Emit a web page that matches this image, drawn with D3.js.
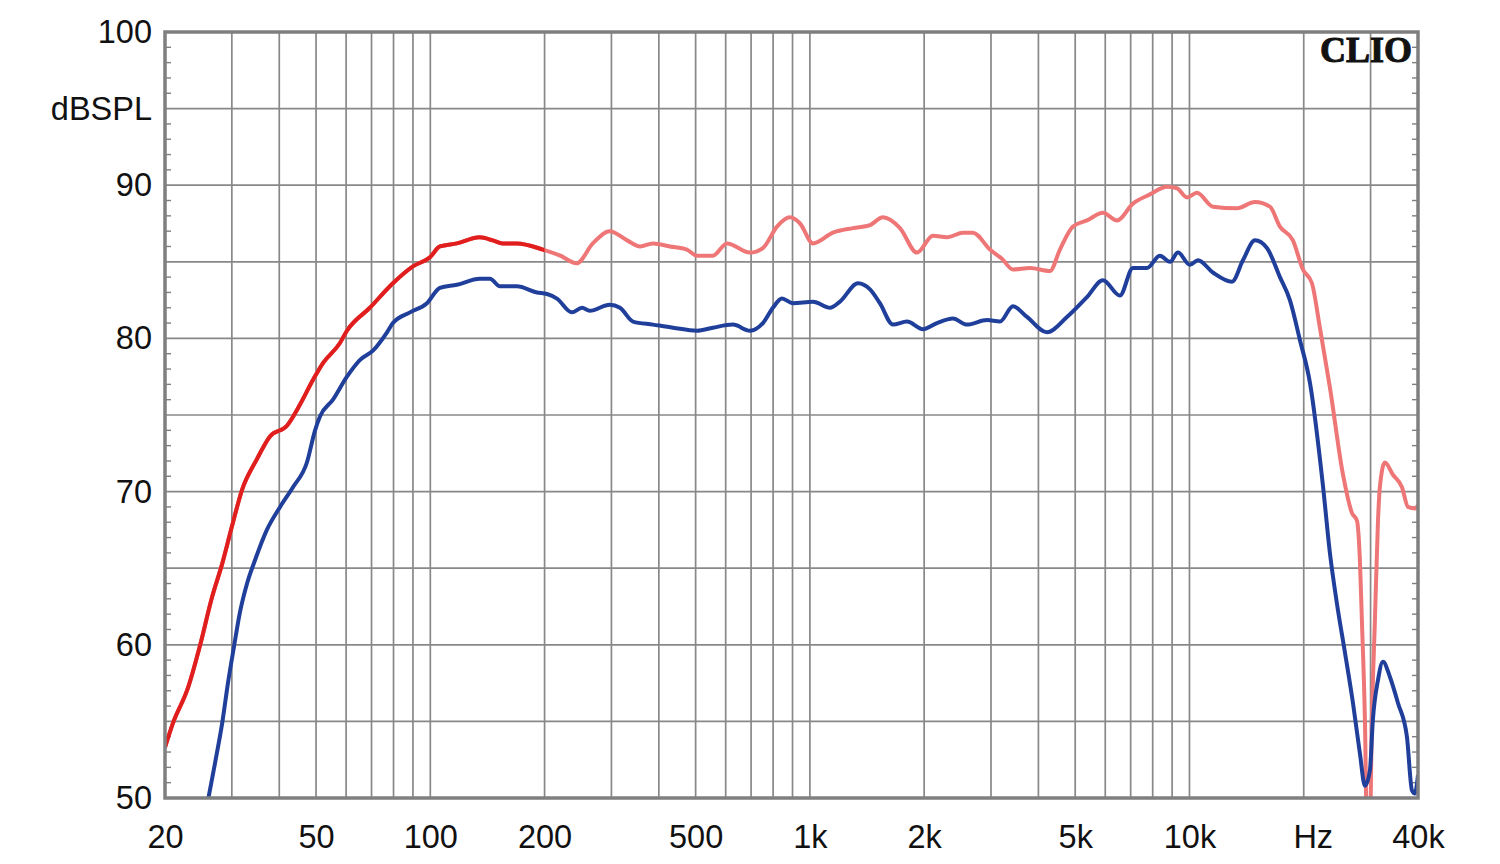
<!DOCTYPE html>
<html>
<head>
<meta charset="utf-8">
<script src="https://cdn.jsdelivr.net/npm/d3@7"></script>
<style>
  html, body { margin: 0; padding: 0; background: #fff; }
  svg { display: block; }
</style>
</head>
<body>
<svg id="chart" width="1500" height="864"></svg>
<script>
// ---------- DATA ----------
// X tick labels (Hz) and Y tick labels (dB SPL)
const xTickValues = [20, 50, 100, 200, 500, 1000, 2000, 5000, 10000, 20000, 40000];
const xTickLabels = ["20", "50", "100", "200", "500", "1k", "2k", "5k", "10k", "Hz", "40k"];
const yTickValues = [100, 95, 90, 80, 70, 60, 50];
const yTickLabels = ["100", "dBSPL", "90", "80", "70", "60", "50"];
const xGrid = [30, 40, 50, 60, 70, 80, 90, 100, 200, 300, 400, 500, 600, 700, 800, 900,
               1000, 2000, 3000, 4000, 5000, 6000, 7000, 8000, 9000, 10000, 20000, 30000];
const yGrid = [55, 60, 65, 70, 75, 80, 85, 90, 95];

// Red / pink curve (upper) : frequency (Hz), level (dB SPL)
const upperFreq = [20, 21.0, 23.0, 24.7, 26.6, 28.3, 30.0, 31.9, 34.9, 37.8, 41.9, 45.4, 49.1, 52.2,
  57.8, 60.3, 69.3, 79.7, 90.0, 99.8, 106, 117.5, 135, 146, 155, 169, 198, 220, 243, 268, 297,
  330, 357, 386, 428, 474, 504, 555, 605, 695, 752, 819, 886, 942, 1019, 1150, 1299, 1440, 1558,
  1727, 1915, 2110, 2297, 2531, 2689, 2981, 3206, 3427, 3800, 4290, 4558, 4932, 5369, 5916, 6441,
  7097, 7868, 8722, 9267, 9848, 10463, 11530, 13340, 14880, 16290, 17310, 18730, 19900, 21020,
  22060, 23440, 25380, 26800, 27620, 28120, 28460, 28990, 29340, 29880, 30240, 30800, 31380,
  31740, 32720, 34360, 36280, 37640, 39260, 40000];
const upperDb = [53.3, 54.9, 57.2, 59.9, 63.1, 65.3, 67.7, 70.1, 72.1, 73.6, 74.3, 75.7, 77.3, 78.4,
  79.7, 80.5, 82.0, 83.6, 84.7, 85.3, 86.0, 86.2, 86.6, 86.4, 86.2, 86.2, 85.8, 85.4, 84.9, 86.2, 87.0,
  86.4, 86.0, 86.2, 86.0, 85.8, 85.4, 85.4, 86.2, 85.6, 85.9, 87.3, 87.9, 87.5, 86.2, 86.9, 87.2, 87.4, 87.9,
  87.2, 85.6, 86.7, 86.6, 86.9, 86.9, 85.8, 85.2, 84.5, 84.6, 84.4, 85.8, 87.3, 87.7, 88.2, 87.7,
  88.8, 89.4, 89.9, 89.8, 89.2, 89.5, 88.6, 88.5, 88.9, 88.6, 87.3, 86.4, 84.5, 83.6,
  80.7, 76.8, 71.1, 68.6, 68.1, 65.5, 61.6, 55.1, 48.0, 48.0, 55.1, 61.6, 68.1,
  70.3, 71.9, 71.1, 70.3, 69.0, 68.9, 69.1];

// Blue curve (lower)
const lowerFreq = [25.8, 27.1, 28.3, 29.3, 30.4, 31.5, 32.9, 34.5, 37.1, 40.2, 43.5, 47.3, 49.7, 51.2,
  55.4, 60.3, 65.3, 70.6, 76.9, 79.7, 88.4, 98.0, 106, 117.5, 135, 143.6, 152.6, 169, 191, 203, 215.6,
  236, 251, 263, 297, 316, 342, 386, 436, 504, 555, 627, 695, 752, 799, 844, 902, 1019, 1130, 1200,
  1339, 1440, 1529, 1655, 1802, 1986, 2161, 2382, 2593, 2927, 3168, 3427, 3731, 4212, 4756, 5369,
  5916, 6559, 7097, 7727, 8359, 8883, 9325, 10028, 10528, 11530, 12940, 13830, 14880, 16000, 17310,
  18390, 19540, 20770, 22470, 23440, 24460, 25680, 26960, 28120, 28990, 29880, 30420, 31380, 32340,
  33740, 35420, 37400, 38560, 39260, 40000];
const lowerDb = [49.5, 52.3, 54.9, 57.5, 59.9, 62.1, 64.0, 65.5, 67.5, 69.0, 70.3, 71.9, 74.0, 74.9,
  76.0, 77.5, 78.6, 79.2, 80.4, 81.0, 81.7, 82.3, 83.3, 83.5, 83.9, 83.9, 83.4, 83.4, 83.0, 82.9, 82.6,
  81.7, 82.0, 81.8, 82.2, 82.0, 81.1, 80.9, 80.7, 80.5, 80.7, 80.9, 80.5, 81.0, 82.0, 82.6, 82.3, 82.4, 82.0, 82.4,
  83.6, 83.2, 82.3, 80.9, 81.1, 80.6, 81.0, 81.3, 80.9, 81.2, 81.1, 82.1, 81.4, 80.4, 81.4, 82.7,
  83.8, 82.8, 84.6, 84.6, 85.4, 85.0, 85.6, 84.8, 85.1, 84.3, 83.7, 85.1, 86.4, 85.9, 84.0,
  82.5, 79.9, 77.1, 70.4, 66.0, 62.7, 59.5, 56.2, 52.9, 50.8, 51.8, 55.1, 57.7, 58.9,
  57.9, 56.2, 54.0, 50.5, 50.3, 51.5];

const redUntil = 200; // upper curve is drawn in saturated red up to 200 Hz

// ---------- CHART ----------
(function () {
const svg = d3.select("#chart");
const pLeft = 165, pRight = 1418, pTop = 32, pBottom = 798;
const x = d3.scaleLog().domain([20, 40000]).range([pLeft, pRight]);
const y = d3.scaleLinear().domain([50, 100]).range([pBottom, pTop]);

const gridColor = "#888888";
const frameColor = "#7f7f7f";
const font = "'Liberation Sans', Arial, sans-serif";
const fontSize = 32.5;

// grid
svg.append("g").selectAll("line").data(xGrid).join("line")
  .attr("x1", d => x(d)).attr("x2", d => x(d))
  .attr("y1", pTop).attr("y2", pBottom)
  .attr("stroke", gridColor).attr("stroke-width", 1.7);
svg.append("g").selectAll("line").data(yGrid).join("line")
  .attr("x1", pLeft).attr("x2", pRight)
  .attr("y1", d => y(d)).attr("y2", d => y(d))
  .attr("stroke", gridColor).attr("stroke-width", 1.7);

// minor ticks every 1 dB on both sides (inward)
const minor = d3.range(51, 100).filter(d => d % 5 !== 0);
svg.append("g").selectAll("line").data(minor).join("line")
  .attr("x1", pLeft).attr("x2", pLeft + 6)
  .attr("y1", d => y(d)).attr("y2", d => y(d))
  .attr("stroke", frameColor).attr("stroke-width", 1.4);
svg.append("g").selectAll("line").data(minor).join("line")
  .attr("x1", pRight - 6).attr("x2", pRight)
  .attr("y1", d => y(d)).attr("y2", d => y(d))
  .attr("stroke", frameColor).attr("stroke-width", 1.4);

// CLIO watermark
svg.append("text")
  .attr("x", 1412).attr("y", 62)
  .attr("text-anchor", "end")
  .attr("font-family", "'Liberation Serif', 'DejaVu Serif', serif")
  .attr("font-weight", "bold")
  .attr("font-size", 36)
  .attr("fill", "#111")
  .attr("stroke", "#111").attr("stroke-width", 1)
  .text("CLIO");

// curves
const defs = svg.append("defs");
defs.append("clipPath").attr("id", "plotClip").append("rect")
  .attr("x", pLeft).attr("y", pTop).attr("width", pRight - pLeft).attr("height", pBottom - pTop);
defs.append("clipPath").attr("id", "redClip").append("rect")
  .attr("x", pLeft).attr("y", pTop).attr("width", x(redUntil) - pLeft).attr("height", pBottom - pTop);

const upper = upperFreq.map((f, i) => [f, upperDb[i]]);
const lower = lowerFreq.map((f, i) => [f, lowerDb[i]]);
const line = d3.line().x(d => x(d[0])).y(d => y(d[1])).curve(d3.curveMonotoneX);

const curves = svg.append("g").attr("clip-path", "url(#plotClip)");
curves.append("path").attr("d", line(upper))
  .attr("fill", "none").attr("stroke", "#ef7676").attr("stroke-width", 4)
  .attr("stroke-linejoin", "round");
curves.append("g").attr("clip-path", "url(#redClip)")
  .append("path").attr("d", line(upper))
  .attr("fill", "none").attr("stroke", "#e11e1e").attr("stroke-width", 4)
  .attr("stroke-linejoin", "round");
curves.append("path").attr("d", line(lower))
  .attr("fill", "none").attr("stroke", "#203f9b").attr("stroke-width", 4)
  .attr("stroke-linejoin", "round");

// frame
svg.append("rect")
  .attr("x", pLeft).attr("y", pTop).attr("width", pRight - pLeft).attr("height", pBottom - pTop)
  .attr("fill", "none").attr("stroke", frameColor).attr("stroke-width", 3.5);

// axes (labels only)
const xAxis = d3.axisBottom(x).tickValues(xTickValues)
  .tickFormat((d, i) => xTickLabels[i]).tickSize(0).tickPadding(0);
const gx = svg.append("g").attr("transform", `translate(0,${pBottom})`).call(xAxis);
gx.select(".domain").remove();
gx.selectAll("text")
  .attr("font-family", font).attr("font-size", fontSize).attr("fill", "#111")
  .attr("dy", null).attr("y", 50)
  .attr("dx", (d, i) => xTickLabels[i] === "Hz" ? 9 : 0);

const yAxis = d3.axisLeft(y).tickValues(yTickValues)
  .tickFormat((d, i) => yTickLabels[i]).tickSize(0).tickPadding(0);
const gy = svg.append("g").attr("transform", `translate(${152},0)`).call(yAxis);
gy.select(".domain").remove();
gy.selectAll("text")
  .attr("font-family", font).attr("font-size", fontSize).attr("fill", "#111")
  .attr("dy", null).attr("x", 0).attr("y", 10.5)
  .attr("text-anchor", "end");
})();
</script>
</body>
</html>
